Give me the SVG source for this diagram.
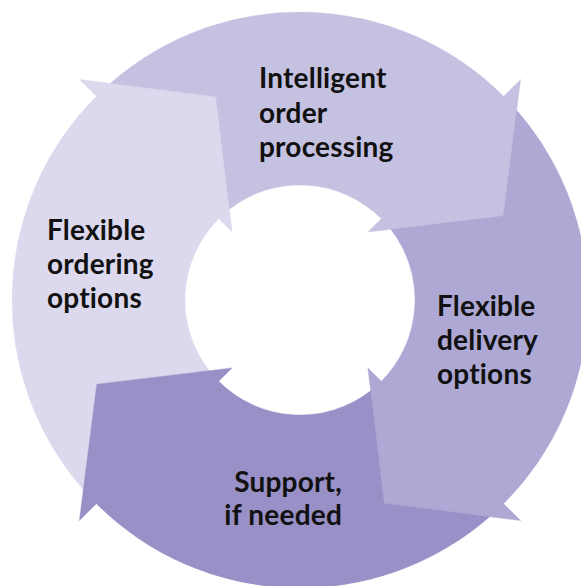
<svg xmlns="http://www.w3.org/2000/svg" width="581" height="586" viewBox="0 0 581 586">
  <defs>
    <path id="seg" d="M -189.69 -216.67 A 288 288 0 0 1 203.65 -203.65 L 220.62 -220.62 L 203.25 -84.19 L 67.88 -67.88 L 81.32 -81.32 A 115 115 0 0 0 -70.64 -90.75 L -84.19 -203.25 Z"/>
  </defs>
  <style>
    .lbl { font-family: Lato, "Open Sans", "Liberation Sans", sans-serif; font-weight: bold; font-size: 28px; letter-spacing: 0.2px; fill: #111111; }
    .s1 { fill: #dcd9ee; stroke: #dcd9ee; stroke-width: 0.4; }
    .s2 { fill: #c5c2e1; stroke: #c5c2e1; stroke-width: 0.4; }
    .s3 { fill: #ada8d4; stroke: #ada8d4; stroke-width: 0.4; }
    .s4 { fill: #9890c6; stroke: #9890c6; stroke-width: 0.4; }
  </style>
  <rect width="581" height="586" fill="#ffffff"/>
  <g id="connectors"/>
  <g id="node-ordering">
    <use href="#seg" class="s1" transform="translate(300,300) rotate(270)"/>
    <text class="lbl" x="47" y="239.5">Flexible</text>
    <text class="lbl" x="47" y="274">ordering</text>
    <text class="lbl" x="47" y="308">options</text>
  </g>
  <g id="node-processing">
    <use href="#seg" class="s2" transform="translate(300,300)"/>
    <text class="lbl" x="259" y="88">Intelligent</text>
    <text class="lbl" x="259" y="122.5">order</text>
    <text class="lbl" x="259" y="156.5">processing</text>
  </g>
  <g id="node-delivery">
    <use href="#seg" class="s3" transform="translate(300,300) rotate(90)"/>
    <text class="lbl" x="437" y="315.5">Flexible</text>
    <text class="lbl" x="437" y="350">delivery</text>
    <text class="lbl" x="437" y="384">options</text>
  </g>
  <g id="node-support">
    <use href="#seg" class="s4" transform="translate(300,300) rotate(180)"/>
    <text class="lbl" x="342" y="491.5" text-anchor="end">Support,</text>
    <text class="lbl" x="342" y="524.5" text-anchor="end">if needed</text>
  </g>
</svg>
